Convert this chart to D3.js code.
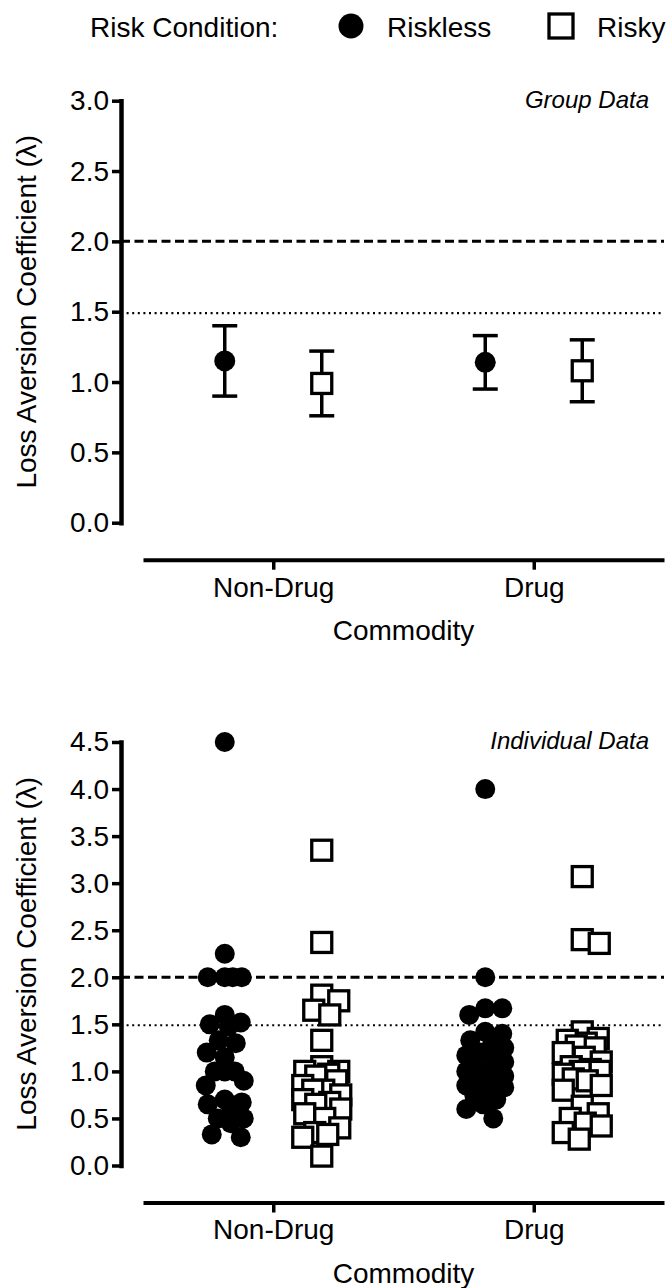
<!DOCTYPE html>
<html>
<head>
<meta charset="utf-8">
<script src="https://cdn.jsdelivr.net/npm/d3@7"></script>
<style>
body { margin: 0; background: #fff; }
text { font-family: Arial, "Liberation Sans", sans-serif; fill: #000; }
</style>
</head>
<body>
<div id="chart"></div>
<script>
// categories
var commodities = ["Non-Drug", "Drug"];
var conditions = ["Riskless", "Risky"];

// group data: mean and error bar half-length, one value per commodity
var risklessMean = [1.15, 1.14];
var risklessErr = [0.25, 0.19];
var riskyMean = [0.99, 1.08];
var riskyErr = [0.23, 0.22];

// individual data
var risklessNonDrug = [4.5, 2.25, 2.0, 2.0, 2.0, 2.0, 1.6, 1.52, 1.5, 1.48, 1.33, 1.3, 1.2, 1.15,
    1.0, 1.0, 1.0, 0.9, 0.85, 0.7, 0.67, 0.65, 0.6, 0.5, 0.5, 0.45, 0.33, 0.3];
var riskyNonDrug = [3.35, 2.37, 1.81, 1.75, 1.65, 1.6, 1.33, 1.05, 1.0, 1.0, 0.97, 0.95, 0.9, 0.85,
    0.8, 0.8, 0.75, 0.7, 0.67, 0.65, 0.6, 0.55, 0.5, 0.4, 0.35, 0.33, 0.3, 0.1];
var risklessDrug = [4.0, 2.0, 1.67, 1.67, 1.6, 1.42, 1.4, 1.33, 1.3, 1.25, 1.2, 1.17, 1.15, 1.1,
    1.05, 1.0, 1.0, 0.95, 0.9, 0.88, 0.85, 0.83, 0.8, 0.75, 0.7, 0.65, 0.6, 0.5];
var riskyDrug = [3.07, 2.4, 2.36, 1.42, 1.35, 1.33, 1.3, 1.27, 1.25, 1.2, 1.15, 1.1, 1.05, 1.02,
    1.0, 1.0, 0.97, 0.92, 0.9, 0.85, 0.8, 0.63, 0.55, 0.5, 0.45, 0.42, 0.35, 0.28];

// axis ticks and reference lines
var groupTicks = [0, 0.5, 1.0, 1.5, 2.0, 2.5, 3.0];
var indivTicks = [0, 0.5, 1.0, 1.5, 2.0, 2.5, 3.0, 3.5, 4.0, 4.5];
var dashedRef = 2.0;
var dottedRef = 1.49;

var W = 671, H = 1288;
var axisX = 121, xStart = 143, xEnd = 664;
var fs = 28;

var svg = d3.select("#chart").append("svg")
    .attr("width", W)
    .attr("height", H);

var x = d3.scalePoint().domain(commodities).range([xStart, xEnd]).padding(0.5);
var xc = d3.scalePoint().domain(conditions).range([-48.5, 48.5]);

function drawPanel(yTop, yZero, yMax, ticks, note) {
    var g = svg.append("g");
    var y = d3.scaleLinear().domain([0, yMax]).range([yZero, yTop]);

    // reference lines
    g.append("line")
        .attr("x1", axisX).attr("x2", xEnd)
        .attr("y1", y(dashedRef)).attr("y2", y(dashedRef))
        .attr("stroke", "#000").attr("stroke-width", 3)
        .attr("stroke-dasharray", "9,4.5");
    g.append("line")
        .attr("x1", axisX).attr("x2", xEnd)
        .attr("y1", y(dottedRef)).attr("y2", y(dottedRef))
        .attr("stroke", "#000").attr("stroke-width", 2.2)
        .attr("stroke-dasharray", "2,3.6");

    // y axis
    var ya = g.append("g")
        .attr("transform", "translate(" + axisX + ",0)")
        .call(d3.axisLeft(y).tickValues(ticks).tickFormat(d3.format(".1f"))
            .tickSizeInner(9).tickSizeOuter(0).tickPadding(3));
    ya.select(".domain").attr("stroke-width", 4.5).attr("stroke-linecap", "square");
    ya.selectAll(".tick line").attr("stroke-width", 3.5);
    ya.selectAll(".tick text").style("font-size", fs + "px").attr("font-family", null);

    // x axis
    var xAxisY = yZero + 37;
    var xa = g.append("g")
        .attr("transform", "translate(0," + xAxisY + ")")
        .call(d3.axisBottom(x).tickSizeInner(10).tickSizeOuter(0).tickPadding(7));
    xa.select(".domain").attr("stroke-width", 4);
    xa.selectAll(".tick line").attr("stroke-width", 3.5);
    xa.selectAll(".tick text").style("font-size", fs + "px").attr("font-family", null);

    // titles
    g.append("text")
        .attr("x", (xStart + xEnd) / 2)
        .attr("y", xAxisY + 80)
        .attr("text-anchor", "middle")
        .style("font-size", fs + "px")
        .text("Commodity");
    g.append("text")
        .attr("transform", "translate(36," + (yTop + yZero) / 2 + ") rotate(-90)")
        .attr("text-anchor", "middle")
        .style("font-size", fs + "px")
        .text("Loss Aversion Coefficient (λ)");
    g.append("text")
        .attr("x", 649)
        .attr("y", yTop + 7)
        .attr("text-anchor", "end")
        .style("font-size", "24px")
        .style("font-style", "italic")
        .text(note);

    return { g: g, y: y };
}

function drawMarker(sel, cond, r) {
    if (cond === "Riskless") {
        sel.append("circle").attr("r", r).attr("fill", "#000");
    } else {
        sel.append("rect")
            .attr("x", -r).attr("y", -r)
            .attr("width", 2 * r).attr("height", 2 * r)
            .attr("fill", "#fff").attr("stroke", "#000").attr("stroke-width", 3.3);
    }
}

// simple beeswarm so overlapping points spread sideways like the original
function swarm(values, y, half, minD) {
    var pts = values.map(function(v) { return { v: v, y: y(v) }; })
        .sort(function(a, b) { return a.y - b.y; });
    var placed = [];
    pts.forEach(function(p) {
        var best = 0, bestScore = -1, done = false;
        for (var k = 0; k <= half && !done; k += 1) {
            var cands = k === 0 ? [0] : [k, -k];
            for (var c = 0; c < cands.length; c++) {
                var s = cands[c];
                var md = d3.min(placed, function(q) { return Math.hypot(q.dx - s, q.y - p.y); });
                if (md === undefined) md = Infinity;
                if (md >= minD) { best = s; done = true; break; }
                if (md > bestScore) { bestScore = md; best = s; }
            }
        }
        p.dx = best;
        placed.push(p);
    });
    return pts;
}

// ---------- GROUP DATA ----------
var topPanel = drawPanel(100.7, 522.7, 3, groupTicks, "Group Data");
var groupRows = [];
commodities.forEach(function(c, i) {
    groupRows.push({ com: c, cond: "Riskless", mean: risklessMean[i], err: risklessErr[i] });
    groupRows.push({ com: c, cond: "Risky", mean: riskyMean[i], err: riskyErr[i] });
});

var gp = topPanel.g.selectAll(".grp")
    .data(groupRows)
    .enter()
    .append("g")
    .attr("class", "grp")
    .attr("transform", function(d) { return "translate(" + (x(d.com) + xc(d.cond)) + ",0)"; });

gp.append("line")
    .attr("y1", function(d) { return topPanel.y(d.mean + d.err); })
    .attr("y2", function(d) { return topPanel.y(d.mean - d.err); })
    .attr("stroke", "#000").attr("stroke-width", 3.5);
[1, -1].forEach(function(sign) {
    gp.append("line")
        .attr("x1", -12.5).attr("x2", 12.5)
        .attr("y1", function(d) { return topPanel.y(d.mean + sign * d.err); })
        .attr("y2", function(d) { return topPanel.y(d.mean + sign * d.err); })
        .attr("stroke", "#000").attr("stroke-width", 3.5);
});
gp.each(function(d) {
    var m = d3.select(this).append("g").attr("transform", "translate(0," + topPanel.y(d.mean) + ")");
    drawMarker(m, d.cond, d.cond === "Riskless" ? 10.5 : 10);
});

// ---------- INDIVIDUAL DATA ----------
var botPanel = drawPanel(742, 1165.5, 4.5, indivTicks, "Individual Data");
var indivSets = [
    { com: "Non-Drug", cond: "Riskless", values: risklessNonDrug },
    { com: "Non-Drug", cond: "Risky", values: riskyNonDrug },
    { com: "Drug", cond: "Riskless", values: risklessDrug },
    { com: "Drug", cond: "Risky", values: riskyDrug }
];
indivSets.forEach(function(set) {
    var cx = x(set.com) + xc(set.cond);
    var pts = swarm(set.values, botPanel.y, 19, 17);
    botPanel.g.selectAll(null)
        .data(pts)
        .enter()
        .append("g")
        .attr("transform", function(d) { return "translate(" + (cx + d.dx) + "," + d.y + ")"; })
        .each(function() { drawMarker(d3.select(this), set.cond, 10); });
});

// ---------- LEGEND ----------
var lg = svg.append("g");
lg.append("text").attr("x", 90).attr("y", 37).style("font-size", fs + "px").text("Risk Condition:");
lg.append("g").attr("transform", "translate(351,26)").call(function(s) { drawMarker(s, "Riskless", 12.5); });
lg.append("text").attr("x", 387).attr("y", 37).style("font-size", fs + "px").text("Riskless");
lg.append("g").attr("transform", "translate(561,26)").call(function(s) { drawMarker(s, "Risky", 12); });
lg.append("text").attr("x", 597).attr("y", 37).style("font-size", fs + "px").text("Risky");
</script>
</body>
</html>
